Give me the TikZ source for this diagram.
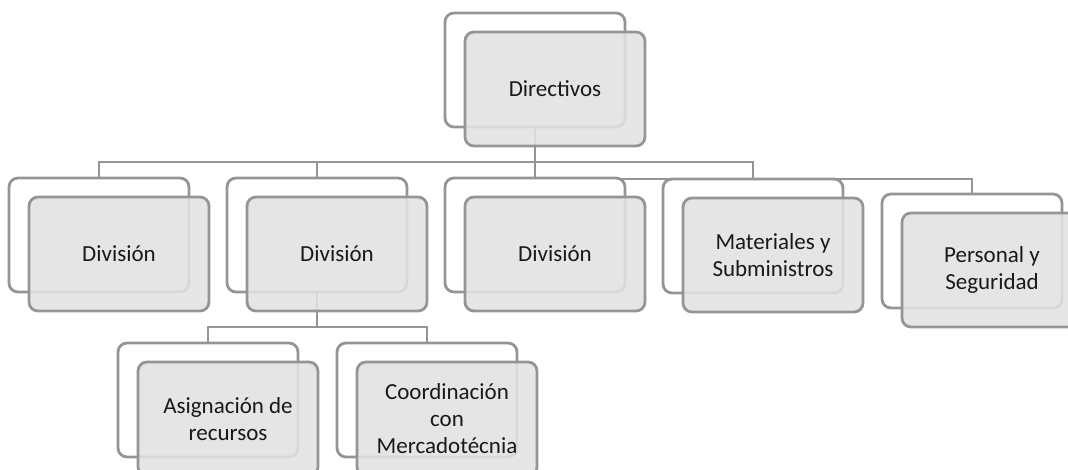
\documentclass[tikz,border=0pt]{standalone}
\usepackage{fontspec}
\setmainfont{Carlito}
\usetikzlibrary{backgrounds}

\definecolor{edgegray}{HTML}{959595}
\definecolor{boxfill}{HTML}{E2E2E2}

\tikzset{
    backbox/.style={draw=edgegray, line width=2.8pt, fill=white, rounded corners=9pt,
        minimum width=180pt, minimum height=114pt, inner sep=0pt, outer sep=0pt},
    frontbox/.style={draw=edgegray, line width=2.8pt, fill=boxfill, fill opacity=0.88,
        text opacity=1, rounded corners=9pt, minimum width=180pt, minimum height=114pt,
        inner sep=0pt, outer sep=0pt, align=center, text=black!90,
        font=\fontsize{23}{27}\selectfont},
    link/.style={draw=edgegray, line width=2.8pt}
}

\begin{document}
\begin{tikzpicture}[x=1pt, y=-1pt]
    \useasboundingbox (0,0) rectangle (1068,470);
    \clip (0,0) rectangle (1068,470);

    % top box
    \node[backbox] (dirB) at (535,70) {};
    \node[frontbox] (dirF) at (555,89) {Directivos};

    % second row
    \node[backbox] (divaB) at (99,235) {};
    \node[frontbox] (divaF) at (119,254) {División};

    \node[backbox] (divbB) at (317,235) {};
    \node[frontbox] (divbF) at (337,254) {División};

    \node[backbox] (divcB) at (535,235) {};
    \node[frontbox] (divcF) at (555,254) {División};

    \node[backbox] (matB) at (753,236) {};
    \node[frontbox] (matF) at (773,255) {Materiales y\\Subministros};

    \node[backbox] (persB) at (972,251) {};
    \node[frontbox] (persF) at (992,270) {Personal y\\Seguridad};

    % third row
    \node[backbox] (asigB) at (208,400) {};
    \node[frontbox] (asigF) at (228,419) {Asignación de\\recursos};

    \node[backbox] (coordB) at (427,400) {};
    \node[frontbox] (coordF) at (447,419) {Coordinación\\con\\Mercadotécnia};

    % bus levels
    \coordinate (busTop) at (0,162);
    \coordinate (busLow) at (0,179);
    \coordinate (busSub) at (0,327);

    % connectors
    \begin{scope}[on background layer]
        \draw[link] (dirB.south) -- (dirB.south |- busTop) -| (divaB.north);
        \draw[link] (dirB.south |- busTop) -| (divbB.north);
        \draw[link] (dirB.south) -- (divcB.north);
        \draw[link] (dirB.south |- busTop) -| (matB.north);
        \draw[link] (dirB.south |- busLow) -| (persB.north);

        \draw[link] (divbB.south) -- (divbB.south |- busSub) -| (asigB.north);
        \draw[link] (divbB.south |- busSub) -| (coordB.north);
    \end{scope}
\end{tikzpicture}
\end{document}
